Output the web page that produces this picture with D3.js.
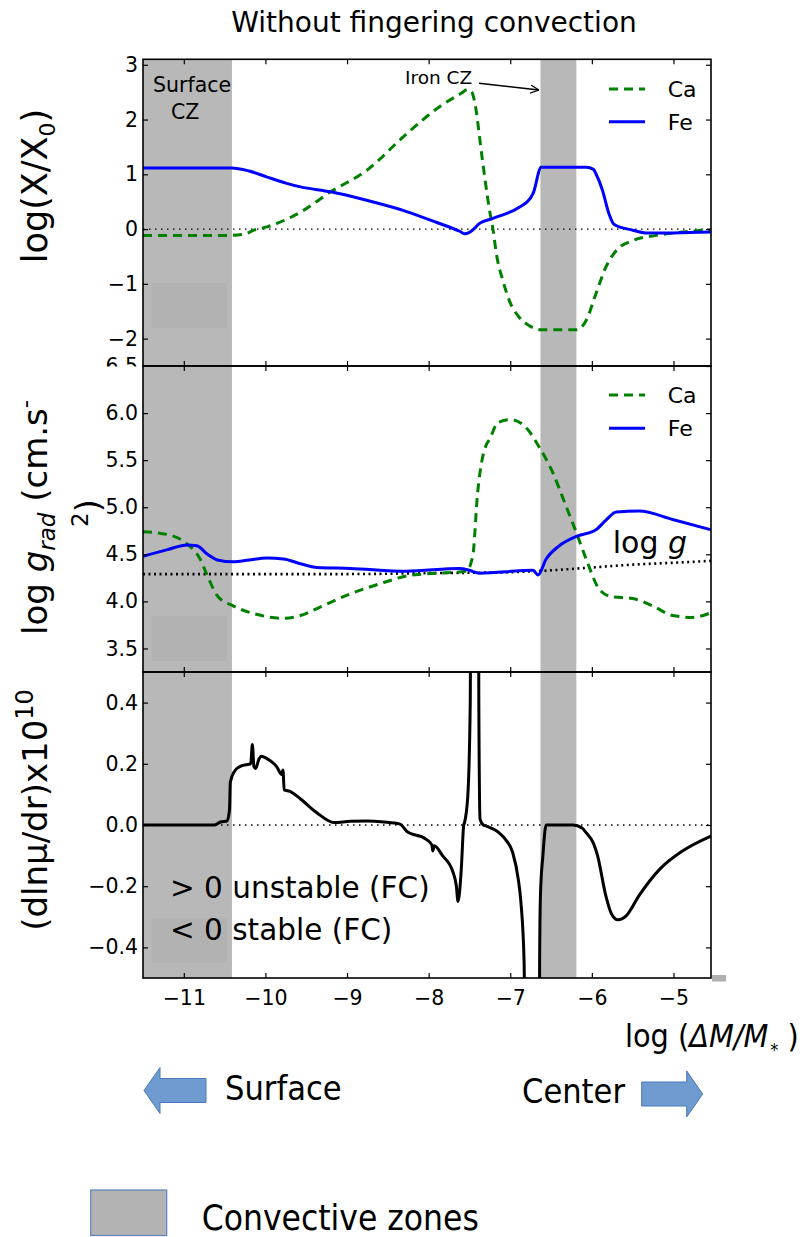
<!DOCTYPE html>
<html>
<head>
<meta charset="utf-8">
<script src="https://cdn.jsdelivr.net/npm/d3@7"></script>
<style>
  html, body { margin: 0; padding: 0; background: #fff; }
  svg { display: block; font-family: "DejaVu Sans", sans-serif; }
  .cond { font-family: "DejaVu Sans Condensed", "DejaVu Sans", sans-serif; font-stretch: condensed; }
</style>
</head>
<body>
<svg id="chart" width="812" height="1237"></svg>
<script>
// ---- data -------------------------------------------------------------
const xTicks = [-11, -10, -9, -8, -7, -6, -5];
const abundTicks = [3, 2, 1, 0, -1, -2];
const gradTicks = [6.5, 6.0, 5.5, 5.0, 4.5, 4.0, 3.5];
const muTicks = [0.4, 0.2, 0.0, -0.2, -0.4];

// convective zones, log(dM/M*)
const convZones = [[-11.5, -10.41], [-6.63, -6.19]];

// log(X/X0)
const feAbund = [[-11.5,1.116],[-10.41,1.116],[-10.2,1.06],[-9.98,0.95],[-9.75,0.84],[-9.57,0.77],[-9.2,0.68],
  [-8.76,0.525],[-8.27,0.32],[-7.9,0.12],[-7.62,-0.04],[-7.56,-0.085],[-7.5,-0.06],[-7.42,0.04],[-7.38,0.1],
  [-7.22,0.19],[-6.89,0.40],[-6.76,0.55],[-6.72,0.65],[-6.62,1.13],[-6.07,1.13],[-5.98,1.09],[-5.95,1.01],
  [-5.87,0.71],[-5.79,0.28],[-5.73,0.09],[-5.5,-0.02],[-5.34,-0.07],[-5.0,-0.07],[-4.54,-0.055]];
const caAbund = [[-11.5,-0.115],[-10.41,-0.115],[-10.25,-0.09],[-10.14,-0.02],[-9.98,0.04],[-9.57,0.31],[-9.2,0.68],
  [-8.76,1.07],[-8.27,1.74],[-7.87,2.23],[-7.6,2.48],[-7.52,2.55],[-7.47,2.5],[-7.44,2.35],[-7.34,1.25],
  [-7.26,0.40],[-7.21,-0.02],[-7.17,-0.45],[-7.09,-0.94],[-7.01,-1.31],[-6.89,-1.61],[-6.77,-1.76],
  [-6.62,-1.84],[-6.19,-1.84],[-6.07,-1.67],[-5.95,-1.18],[-5.83,-0.70],[-5.7,-0.39],[-5.5,-0.21],
  [-5.21,-0.115],[-4.89,-0.055],[-4.54,-0.01]];

// log g_rad
const feGrad = [[-11.5,4.48],[-11.2,4.55],[-10.96,4.60],[-10.84,4.59],[-10.71,4.50],[-10.59,4.44],[-10.39,4.42],
  [-10.2,4.44],[-9.98,4.46],[-9.78,4.45],[-9.57,4.40],[-9.37,4.36],[-8.96,4.35],[-8.27,4.32],[-7.62,4.35],
  [-7.5,4.33],[-7.38,4.30],[-6.72,4.33],[-6.66,4.28],[-6.56,4.45],[-6.40,4.59],[-6.19,4.69],[-5.95,4.76],
  [-5.83,4.86],[-5.70,4.95],[-5.42,4.96],[-5.01,4.87],[-4.54,4.76]];
const caGrad = [[-11.5,4.74],[-11.2,4.71],[-10.96,4.61],[-10.8,4.45],[-10.71,4.27],[-10.59,4.06],[-10.39,3.95],
  [-10.1,3.86],[-9.78,3.82],[-9.57,3.85],[-9.33,3.94],[-8.96,4.08],[-8.55,4.2],[-8.27,4.27],[-8.07,4.29],
  [-7.54,4.32],[-7.46,4.48],[-7.40,5.15],[-7.29,5.67],[-7.26,5.71],[-7.15,5.9],[-6.99,5.93],[-6.78,5.82],
  [-6.66,5.66],[-6.48,5.37],[-6.32,5.02],[-6.19,4.73],[-6.07,4.45],[-5.91,4.13],[-5.76,4.05],[-5.5,4.03],
  [-5.25,3.95],[-5.01,3.85],[-4.77,3.83],[-4.54,3.88]];
const logG = [[-11.5,4.29],[-9.0,4.29],[-8.0,4.30],[-7.0,4.31],[-6.5,4.33],[-6.0,4.36],[-5.5,4.39],[-5.0,4.41],[-4.54,4.43]];

// (dln mu / dr) x 1e10
const dlnMu = [[-11.5,0],[-10.63,0],[-10.55,0.01],[-10.47,0.013],[-10.44,0.05],[-10.43,0.14],[-10.38,0.175],
  [-10.32,0.19],[-10.22,0.198],[-10.18,0.2],[-10.16,0.263],[-10.14,0.19],[-10.12,0.185],[-10.08,0.215],
  [-10.05,0.225],[-9.98,0.217],[-9.86,0.19],[-9.80,0.165],[-9.785,0.18],[-9.77,0.115],[-9.7,0.11],[-9.57,0.085],
  [-9.37,0.04],[-9.16,0.008],[-8.96,0.012],[-8.76,0.013],[-8.55,0.01],[-8.35,0.003],[-8.27,-0.02],[-8.03,-0.047],
  [-7.96,-0.065],[-7.95,-0.085],[-7.93,-0.068],[-7.83,-0.1],[-7.7,-0.155],[-7.66,-0.2],[-7.64,-0.25],
  [-7.6,-0.145],[-7.57,0.0],[-7.56,0.008],[-7.52,0.095],[-7.49,0.4],[-7.475,2],[-7.40,2],[-7.385,0.4],
  [-7.37,0.019],[-7.33,0.0],[-7.3,-0.003],[-7.14,-0.025],[-7.05,-0.05],[-6.97,-0.09],[-6.9,-0.18],
  [-6.87,-0.25],[-6.83,-0.45],[-6.8,-2],[-6.655,-2],[-6.64,-0.45],[-6.63,-0.23],[-6.6,-0.1],[-6.56,0],
  [-6.23,0],[-6.12,-0.01],[-6.07,-0.025],[-5.98,-0.06],[-5.93,-0.1],[-5.83,-0.23],[-5.76,-0.29],
  [-5.68,-0.31],[-5.58,-0.297],[-5.42,-0.23],[-5.17,-0.145],[-4.89,-0.085],[-4.54,-0.036]];

// ---- layout -----------------------------------------------------------
const svg = d3.select("#chart");
const left = 143, right = 711;
const x = d3.scaleLinear().domain([-11.5, -4.54]).range([left, right]);

const panels = [
  { id: "p1", top: 59.3, bottom: 366, domain: [-2.5, 3.1], ticks: abundTicks, fmt: d3.format("d"), shadeY: 283 },
  { id: "p2", top: 366, bottom: 672, domain: [3.25, 6.5], ticks: gradTicks, fmt: d3.format(".1f"), shadeY: 616 },
  { id: "p3", top: 672, bottom: 978, domain: [-0.5, 0.5], ticks: muTicks, fmt: d3.format(".1f"), shadeY: 918 }
];
panels.forEach(p => { p.y = d3.scaleLinear().domain(p.domain).range([p.bottom, p.top]); });

const defs = svg.append("defs");
panels.forEach(p => {
  defs.append("clipPath").attr("id", "clip-" + p.id)
    .append("rect").attr("x", left).attr("y", p.top).attr("width", right - left).attr("height", p.bottom - p.top);
});
defs.append("marker").attr("id", "openArrow").attr("viewBox", "0 0 10 10").attr("refX", 9.5).attr("refY", 5)
  .attr("markerWidth", 9).attr("markerHeight", 9).attr("markerUnits", "userSpaceOnUse").attr("orient", "auto")
  .append("path").attr("d", "M0,0.5 L9.5,5 L0,9.5").attr("fill", "none").attr("stroke", "#000").attr("stroke-width", 1.4);

const bandFill = "#b8b8b8";
const shadeFill = "#b2b2b2";

function smoothLine(p) {
  return d3.line().x(d => x(d[0])).y(d => p.y(d[1])).curve(d3.curveMonotoneX);
}

panels.forEach(p => {
  const g = svg.append("g").attr("class", "panel").attr("id", p.id);
  const plot = g.append("g").attr("clip-path", `url(#clip-${p.id})`);
  // convective zones
  plot.selectAll("rect.cz").data(convZones).join("rect").attr("class", "cz")
    .attr("x", d => x(d[0])).attr("width", d => x(d[1]) - x(d[0]))
    .attr("y", p.top).attr("height", p.bottom - p.top).attr("fill", bandFill);
  // slightly darker patch inside the surface zone
  plot.append("rect").attr("x", 151.7).attr("width", 75).attr("y", p.shadeY).attr("height", 45).attr("fill", shadeFill);
  p.plot = plot; p.g = g;
});

// ---- panel 1: abundances ---------------------------------------------
{
  const p = panels[0];
  p.plot.append("line").attr("x1", left).attr("x2", right).attr("y1", p.y(0)).attr("y2", p.y(0))
    .attr("stroke", "#000").attr("stroke-width", 1.3).attr("stroke-dasharray", "1.5,4.5");
  p.plot.append("path").datum(caAbund).attr("d", smoothLine(p)).attr("fill", "none")
    .attr("stroke", "#008000").attr("stroke-width", 3).attr("stroke-dasharray", "9,6");
  p.plot.append("path").datum(feAbund).attr("d", smoothLine(p)).attr("fill", "none")
    .attr("stroke", "#0000ff").attr("stroke-width", 3);
  // zone labels
  p.g.append("text").attr("x", 153).attr("y", 91.7).attr("font-size", 20.5).text("Surface");
  p.g.append("text").attr("x", 171).attr("y", 119).attr("font-size", 20.5).text("CZ");
  p.g.append("text").attr("x", 405).attr("y", 84.3).attr("font-size", 18.5).text("Iron CZ");
  p.g.append("line").attr("x1", 479).attr("y1", 83.3).attr("x2", x(convZones[1][0]) - 1.5).attr("y2", 90)
    .attr("stroke", "#000").attr("stroke-width", 1.4).attr("marker-end", "url(#openArrow)");
}

// ---- panel 2: radiative accelerations --------------------------------
{
  const p = panels[1];
  p.plot.append("path").datum(logG).attr("d", smoothLine(p)).attr("fill", "none")
    .attr("stroke", "#000").attr("stroke-width", 2.6).attr("stroke-dasharray", "2,3.5");
  p.plot.append("path").datum(caGrad).attr("d", smoothLine(p)).attr("fill", "none")
    .attr("stroke", "#008000").attr("stroke-width", 3).attr("stroke-dasharray", "9,6");
  p.plot.append("path").datum(feGrad).attr("d", smoothLine(p)).attr("fill", "none")
    .attr("stroke", "#0000ff").attr("stroke-width", 3);
  const lg = p.g.append("text").attr("x", 612.7).attr("y", 553).attr("font-size", 30);
  lg.append("tspan").text("log ");
  lg.append("tspan").attr("font-style", "italic").text("g");
}

// ---- panel 3: mean molecular weight gradient -------------------------
{
  const p = panels[2];
  p.plot.append("line").attr("x1", left).attr("x2", right).attr("y1", p.y(0)).attr("y2", p.y(0))
    .attr("stroke", "#000").attr("stroke-width", 1.3).attr("stroke-dasharray", "1.5,4.5");
  p.plot.append("path").datum(dlnMu).attr("d", smoothLine(p))
    .attr("fill", "none").attr("stroke", "#000").attr("stroke-width", 3).attr("stroke-linejoin", "round");
  p.g.append("text").attr("x", 170).attr("y", 898).attr("font-size", 29.5).text("> 0 unstable (FC)");
  p.g.append("text").attr("x", 170).attr("y", 940).attr("font-size", 29.5).text("< 0 stable (FC)");
}

// ---- legends -----------------------------------------------------------
const legendItems = [
  { name: "Ca", color: "#008000", dash: "9,6" },
  { name: "Fe", color: "#0000ff", dash: null }
];
[[89, 121.7], [395, 428.3]].forEach(rows => {
  legendItems.forEach((it, i) => {
    const yy = rows[i];
    const ln = svg.append("line").attr("x1", 609).attr("x2", 645).attr("y1", yy).attr("y2", yy)
      .attr("stroke", it.color).attr("stroke-width", 3);
    if (it.dash) ln.attr("stroke-dasharray", it.dash);
    svg.append("text").attr("x", 667.7).attr("y", yy + 8).attr("font-size", 22).text(it.name);
  });
});

// ---- axes --------------------------------------------------------------
panels.forEach((p, i) => {
  const ax = svg.append("g").attr("class", "axes");
  const yl = ax.append("g").attr("transform", `translate(${left},0)`)
    .call(d3.axisLeft(p.y).tickValues(p.ticks).tickFormat(p.fmt).tickSizeInner(-5).tickSizeOuter(0).tickPadding(5));
  ax.append("g").attr("transform", `translate(${right},0)`)
    .call(d3.axisRight(p.y).tickValues(p.ticks).tickFormat("").tickSizeInner(-5).tickSizeOuter(0));
  ax.append("g").attr("transform", `translate(0,${p.top})`)
    .call(d3.axisTop(x).tickValues(xTicks).tickFormat("").tickSizeInner(-5).tickSizeOuter(0));
  ax.append("g").attr("transform", `translate(0,${p.bottom})`)
    .call(d3.axisBottom(x).tickValues(xTicks).tickFormat(i === 2 ? d3.format("d") : "").tickSizeInner(-5).tickSizeOuter(0).tickPadding(12));
  ax.selectAll(".domain").remove();
  ax.selectAll(".tick line").attr("stroke", "#000").attr("stroke-width", 1.2);
  ax.selectAll("text").attr("font-family", "DejaVu Sans").attr("font-size", 20.5).attr("fill", "#000");
  if (i === 1) {
    // the top label sits on the panel boundary: only its upper half shows
    const t = yl.selectAll(".tick").filter(d => d === 6.5);
    const cid = "clip-label65";
    defs.append("clipPath").attr("id", cid).append("rect")
      .attr("x", -left).attr("y", -30).attr("width", left).attr("height", 30);
    t.attr("clip-path", `url(#${cid})`);
  }
  ax.append("rect").attr("x", left).attr("y", p.top).attr("width", right - left).attr("height", p.bottom - p.top)
    .attr("fill", "none").attr("stroke", "#000").attr("stroke-width", 1.6);
});
svg.append("rect").attr("x", 712).attr("y", 975).attr("width", 14).attr("height", 6.5).attr("fill", "#b0b0b0");

// ---- axis titles ---------------------------------------------------------
svg.append("text").attr("x", 434).attr("y", 32).attr("text-anchor", "middle").attr("font-size", 28)
  .text("Without fingering convection");

const yt1 = svg.append("text").attr("transform", "translate(47,186) rotate(-90)").attr("text-anchor", "middle").attr("font-size", 35);
yt1.append("tspan").text("log(X/X");
yt1.append("tspan").attr("font-size", 22).attr("dy", 8).text("0");
yt1.append("tspan").attr("dy", -8).text(")");

const yt2 = svg.append("text").attr("transform", "translate(47,635) rotate(-90)").attr("text-anchor", "start").attr("font-size", 34);
yt2.append("tspan").text("log ");
yt2.append("tspan").attr("font-style", "italic").text("g");
yt2.append("tspan").attr("font-style", "italic").attr("font-size", 23).attr("dy", 8).text("rad");
yt2.append("tspan").attr("dy", -8).text(" (cm.s");
yt2.append("tspan").attr("font-size", 23).attr("dy", -14).text("-");
const yt2b = svg.append("text").attr("transform", "translate(88,527) rotate(-90)").attr("text-anchor", "start").attr("font-size", 23);
yt2b.append("tspan").text("2");
yt2b.append("tspan").attr("font-size", 34).attr("dy", 12).text(")");

const yt3 = svg.append("text").attr("transform", "translate(47,810) rotate(-90)").attr("text-anchor", "middle").attr("font-size", 34);
yt3.append("tspan").text("(dlnμ/dr)x10");
yt3.append("tspan").attr("font-size", 24).attr("dy", -14).text("10");

const xt = svg.append("text").attr("class", "cond").attr("x", 625).attr("y", 1046.7).attr("font-size", 32);
xt.append("tspan").text("log (");
xt.append("tspan").attr("font-style", "italic").text("ΔM/M");
xt.append("tspan").attr("font-size", 18).attr("dy", 9).attr("dx", 2).text("*");
xt.append("tspan").attr("dy", -9).text(" )");

// ---- direction arrows and zone key ------------------------------------
const arrowShapes = [
  { label: "Surface", dir: -1, tip: 144, tail: 206, cy: 1090.5, tx: 225, anchor: "start" },
  { label: "Center", dir: 1, tip: 702.7, tail: 641.7, cy: 1094, tx: 625, anchor: "end" }
];
arrowShapes.forEach(a => {
  const head = 16 * a.dir, bh = 12, hh = 23;
  const base = a.tip - head;
  const pts = [[a.tip, a.cy], [base, a.cy - hh], [base, a.cy - bh], [a.tail, a.cy - bh],
               [a.tail, a.cy + bh], [base, a.cy + bh], [base, a.cy + hh]];
  svg.append("path").attr("d", d3.line()(pts) + "Z").attr("fill", "#6f9bd1").attr("stroke", "#4a78b8").attr("stroke-width", 1);
  svg.append("text").attr("class", "cond").attr("x", a.tx).attr("y", a.cy + 9).attr("text-anchor", a.anchor)
    .attr("font-size", 34).text(a.label);
});
svg.append("rect").attr("x", 90.7).attr("y", 1190).attr("width", 76).attr("height", 45.5)
  .attr("fill", "#b3b3b3").attr("stroke", "#5b84c4").attr("stroke-width", 1.2);
svg.append("text").attr("class", "cond").attr("x", 201.7).attr("y", 1230).attr("font-size", 35).text("Convective zones");
</script>
</body>
</html>
